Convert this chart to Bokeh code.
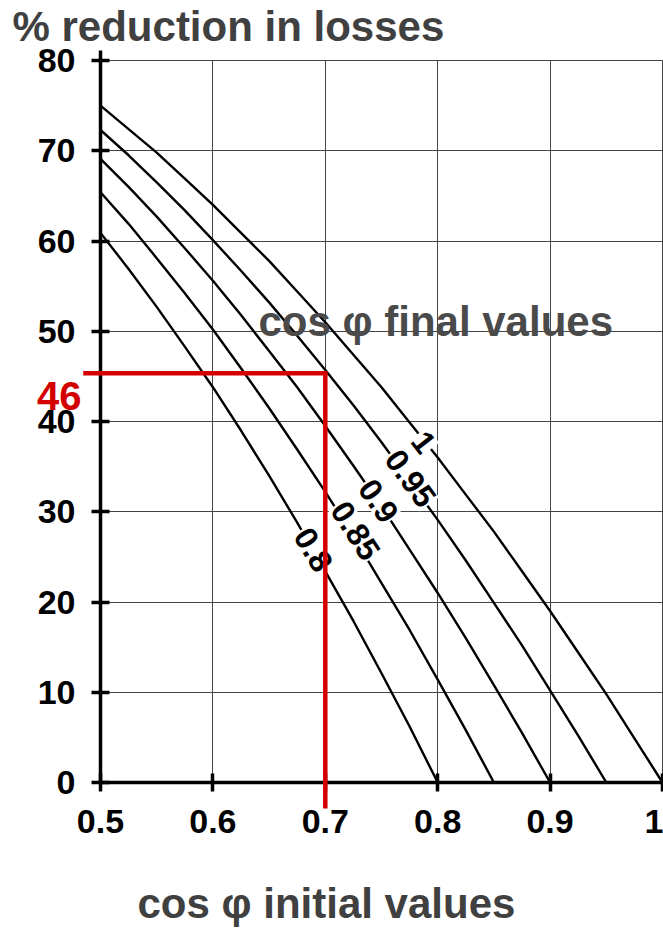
from bokeh.plotting import figure
from bokeh.models import Range1d, FixedTicker, Label, Arrow
from bokeh.embed import file_html
from bokeh.resources import INLINE

# ---- data ----
x_ticks = [0.5, 0.6, 0.7, 0.8, 0.9, 1.0]
x_tick_labels = ["0.5", "0.6", "0.7", "0.8", "0.9", "1"]
y_ticks = [0, 10, 20, 30, 40, 50, 60, 70, 80]

cos_initial = [0.5, 0.525, 0.55, 0.575, 0.6, 0.625, 0.65, 0.675, 0.7, 0.725, 0.75,
               0.775, 0.8, 0.825, 0.85, 0.875, 0.9, 0.925, 0.95, 0.975, 1.0]
final_labels = ["1", "0.95", "0.9", "0.85", "0.8"]
red_final_1 = [75.0, 72.4, 69.8, 66.9, 64.0, 60.9, 57.8, 54.4, 51.0, 47.4, 43.8,
               39.9, 36.0, 31.9, 27.8, 23.4, 19.0, 14.4, 9.8, 4.9, 0.0]
red_final_095 = [72.3, 69.5, 66.5, 63.4, 60.1, 56.7, 53.2, 49.5, 45.7, 41.8, 37.7,
                 33.4, 29.1, 24.6, 19.9, 15.2, 10.2, 5.2, 0.0]
red_final_09 = [69.1, 66.0, 62.7, 59.2, 55.6, 51.8, 47.8, 43.8, 39.5, 35.1, 30.6,
                25.8, 21.0, 16.0, 10.8, 5.5, 0.0]
red_final_085 = [65.4, 61.9, 58.1, 54.2, 50.2, 45.9, 41.5, 36.9, 32.2, 27.3, 22.1,
                 16.9, 11.4, 5.8, 0.0]
red_final_08 = [60.9, 56.9, 52.7, 48.3, 43.8, 39.0, 34.0, 28.8, 23.4, 17.9, 12.1,
                6.2, 0.0]
curves = [red_final_1, red_final_095, red_final_09, red_final_085, red_final_08]

# curve label anchor positions (cos initial, % reduction) and rotation (deg)
label_x = [0.7874, 0.7758, 0.7473, 0.7269, 0.6895]
label_y = [37.7, 33.7, 31.2, 27.9, 25.8]
label_angle = [-52, -54, -55, -57, -59]

marker_x = 0.7
marker_y = 45.35
marker_text = "46"

title_text = "% reduction in losses"
xlabel_text = "cos \u03c6 initial values"
curves_title = "cos \u03c6 final values"

# ---- figure: the frame covers the whole canvas, axes sit at fixed locations ----
W, H = 663, 929
PX_X = 1124.0   # pixels per unit x
PX_Y = 9.025    # pixels per unit y
X0_PX, Y0_PX = 100, 782   # pixel position of (0.5, 0)
x_start = 0.5 - X0_PX / PX_X
x_end = 0.5 + (W - X0_PX) / PX_X
y_end = Y0_PX / PX_Y
y_start = -(H - Y0_PX) / PX_Y

p = figure(width=W, height=H, output_backend="svg", toolbar_location=None,
           x_range=Range1d(x_start, x_end), y_range=Range1d(y_start, y_end),
           min_border=0)
p.outline_line_color = None
p.background_fill_color = "white"
p.border_fill_color = "white"

tick_font = "Liberation Sans"
for ax in (p.xaxis[0], p.yaxis[0]):
    ax.axis_line_width = 3.5
    ax.axis_line_color = "black"
    ax.major_tick_line_width = 3.5
    ax.major_tick_line_color = "black"
    ax.major_tick_in = 9
    ax.major_tick_out = 9
    ax.minor_tick_line_color = None
    ax.major_label_text_font = tick_font
    ax.major_label_text_font_style = "bold"
    ax.major_label_text_font_size = "34px"
    ax.major_label_text_color = "black"

p.xaxis.fixed_location = 0
p.xaxis.bounds = (0.5, 1.0)
p.xaxis.ticker = FixedTicker(ticks=x_ticks)
p.xaxis.major_label_overrides = {t: s for t, s in zip(x_ticks, x_tick_labels)}
p.xaxis.major_label_standoff = 18
p.yaxis.fixed_location = 0.5
p.yaxis.bounds = (0, 81.1)
p.yaxis.ticker = FixedTicker(ticks=y_ticks)
p.yaxis.major_label_standoff = 16

p.xgrid.ticker = FixedTicker(ticks=x_ticks[1:])
p.ygrid.ticker = FixedTicker(ticks=y_ticks[1:])
p.xgrid.cross_bounds = (0, 80)
p.ygrid.cross_bounds = (0.5, 1.0)
for g in (p.xgrid[0], p.ygrid[0]):
    g.grid_line_color = "#444444"
    g.grid_line_width = 1

# curves
for ys in curves:
    p.line(cos_initial[:len(ys)], ys, line_color="black", line_width=2.4)

# curve labels with white background (breaking the curves)
for t, lx, ly, ang in zip(final_labels, label_x, label_y, label_angle):
    p.add_layout(Label(x=lx, y=ly, text=t, angle=ang, angle_units="deg",
                       text_align="center", text_baseline="middle",
                       text_font=tick_font, text_font_style="bold",
                       text_font_size="32px", text_color="black",
                       background_fill_color="white", padding=1))

# "cos φ final values"
p.add_layout(Label(x=0.5 + 158 / PX_X, y=(Y0_PX - 321) / PX_Y, text=curves_title,
                   text_font="Liberation Sans", text_font_style="bold",
                   text_font_size="42px", text_color="#4a4a4a",
                   text_baseline="middle"))

# title
p.add_layout(Label(x=0.5 - 88 / PX_X, y=(Y0_PX - 26) / PX_Y, text=title_text,
                   text_font="Liberation Sans", text_font_style="bold",
                   text_font_size="42px", text_color="#404040",
                   text_baseline="middle"))

# x axis label
p.add_layout(Label(x=0.5 + 37 / PX_X, y=(Y0_PX - 903) / PX_Y, text=xlabel_text,
                   text_font="Liberation Sans", text_font_style="bold",
                   text_font_size="42px", text_color="#404040",
                   text_baseline="middle"))

# red marker lines
red = "#d40000"
p.add_layout(Arrow(start=None, end=None, x_start=0.5 - 15 / PX_X, y_start=marker_y,
                   x_end=marker_x, y_end=marker_y, line_color=red, line_width=4.5,
                   line_cap="square", level="overlay"))
p.add_layout(Arrow(start=None, end=None, x_start=marker_x, y_start=marker_y,
                   x_end=marker_x, y_end=-26 / PX_Y, line_color=red, line_width=4.5,
                   level="overlay"))
p.add_layout(Label(x=0.5 - 19 / PX_X, y=(Y0_PX - 395) / PX_Y, text=marker_text,
                   text_align="right", text_baseline="middle",
                   text_font="Liberation Sans", text_font_style="bold",
                   text_font_size="40px", text_color=red))

open("out.html", "w").write(file_html(p, INLINE))
